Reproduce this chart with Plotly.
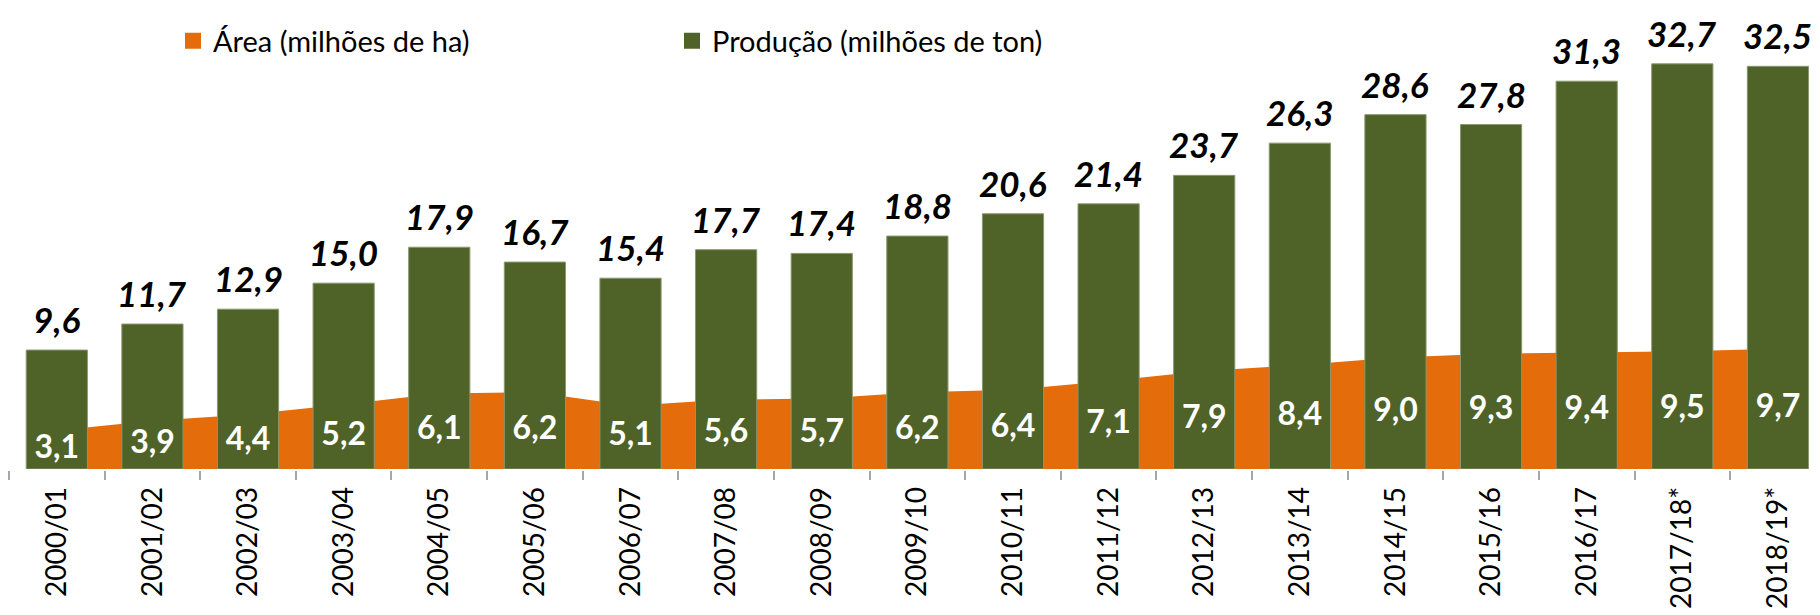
import plotly.graph_objects as go

categorias = ["2000/01", "2001/02", "2002/03", "2003/04", "2004/05", "2005/06", "2006/07",
              "2007/08", "2008/09", "2009/10", "2010/11", "2011/12", "2012/13", "2013/14",
              "2014/15", "2015/16", "2016/17", "2017/18*", "2018/19*"]
producao = [9.6, 11.7, 12.9, 15.0, 17.9, 16.7, 15.4, 17.7, 17.4, 18.8, 20.6, 21.4, 23.7,
            26.3, 28.6, 27.8, 31.3, 32.7, 32.5]
area = [3.1, 3.9, 4.4, 5.2, 6.1, 6.2, 5.1, 5.6, 5.7, 6.2, 6.4, 7.1, 7.9, 8.4, 9.0, 9.3,
        9.4, 9.5, 9.7]

nome_area = "Área (milhões de ha)"
nome_prod = "Produção (milhões de ton)"

VERDE = "#4F6228"
LARANJA = "#E46C0A"
FONTE = "Lato"

fig = go.Figure()

# área (atrás)
fig.add_trace(go.Scatter(
    x=categorias, y=area, mode="none", fill="tozeroy", fillcolor=LARANJA,
    name=nome_area, showlegend=False, hoverinfo="skip", zorder=0))

# barras
fig.add_trace(go.Bar(
    x=categorias, y=producao, name=nome_prod,
    marker=dict(color=VERDE, line=dict(width=1, color="#8A9870")),
    width=0.64, showlegend=False, zorder=1))

# rótulos das barras
for c, v in zip(categorias, producao):
    fig.add_annotation(
        x=c, y=v, text=f"{v:.1f}".replace(".", ","), showarrow=False,
        yanchor="bottom", yshift=8,
        font=dict(family=FONTE, size=35, color="black", weight="bold", style="italic"))

# rótulos da área (no meio da área)
fig.add_trace(go.Scatter(
    x=categorias, y=[v / 2 for v in area], customdata=area, mode="text",
    texttemplate="%{customdata:.1f}", textposition="middle center",
    textfont=dict(family=FONTE, size=32, color="white", weight="bold"),
    showlegend=False, hoverinfo="skip", cliponaxis=False, zorder=3))

# entradas de legenda
fig.add_trace(go.Scatter(x=[None], y=[None], mode="markers", name=nome_area,
                         marker=dict(symbol="square", size=17, color=LARANJA)))
fig.add_trace(go.Scatter(x=[None], y=[None], mode="markers", name=nome_prod,
                         marker=dict(symbol="square", size=17, color=VERDE)))

fig.update_layout(
    width=1812, height=607,
    margin=dict(l=1, r=0, t=2, b=146, autoexpand=False),
    paper_bgcolor="white", plot_bgcolor="white",
    separators=",.",
    font=dict(family=FONTE, color="black"),
    showlegend=True,
    legend=dict(orientation="h", x=(165 - 1) / 1811, xanchor="left",
                yref="container", y=1 - 33 / 607, yanchor="middle",
                font=dict(family=FONTE, size=29, color="black"),
                entrywidthmode="pixels", entrywidth=454,
                bgcolor="rgba(0,0,0,0)"),
    xaxis=dict(type="category", range=[-0.5, 18.44], showline=True, linecolor="#A6A6A6",
               linewidth=1.5, ticks="outside", tickson="boundaries", ticklen=9,
               tickcolor="#A6A6A6", tickwidth=1.5, tickangle=-90, automargin=False,
               ticklabelstandoff=5,
               tickfont=dict(family=FONTE, size=28, color="black"), showgrid=False,
               zeroline=False),
    yaxis=dict(range=[0, 459 / 12.39], visible=False, showgrid=False, zeroline=False,
               automargin=False),
)

fig.write_html("out.html")
